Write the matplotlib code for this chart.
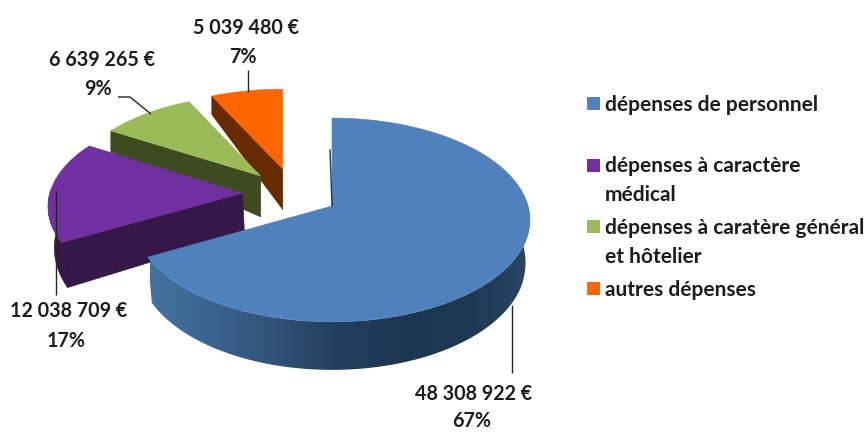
import numpy as np
import matplotlib
matplotlib.use("Agg")
import matplotlib.pyplot as plt
from matplotlib.patches import Polygon, Rectangle
from matplotlib.colors import LinearSegmentedColormap

# ---- data ----
categories = ["dépenses de personnel", "dépenses à caractère\nmédical",
              "dépenses à caratère général\net hôtelier", "autres dépenses"]
values = [48308922, 12038709, 6639265, 5039480]
percent_labels = ["67%", "17%", "9%", "7%"]

# ---- styles ----
top_colors = ["#4F81BD", "#7030A0", "#9BBB59", "#FF6600"]
cut_colors = ["#1F3550", "#351848", "#3E4A20", "#662B00"]
plt.rcParams["font.family"] = ["Lato", "DejaVu Sans"]
TXT = "#1c1c1c"
FS_LABEL = 14.2
FS_LEGEND = 15.0

fig = plt.figure(figsize=(8.68, 4.32), dpi=100)
ax = fig.add_axes([0, 0, 1, 1])

# pseudo-3D projection of the pie plane onto the canvas
CX, CY, RX, RY, K = 332, 206, 196, 100, 0.137
explode = [(0.0, 0.0), (-0.465, -0.13), (-0.38, -0.313), (-0.265, -0.39)]
pull = [0.022, 0.022, 0.0, 0.0]


def persp(yw):
    return 1 / (1 - K * yw)


def apex(i):
    ex, ey = explode[i]
    return CX + RX * ex * persp(ey), CY + RY * ey * persp(ey)


def drop(sy):
    return np.interp(sy, [90, 131, 170, 193, 242, 322], [18, 21, 41, 40, 45, 48])


def rim(i, t_deg):
    t = np.radians(t_deg)
    ex, ey = explode[i]
    yw = ey - np.sin(t)
    return (CX + RX * (ex * persp(ey) + np.cos(t) * persp(yw)),
            CY + RY * yw * persp(yw))


def lower(i, sx, sy):
    return sx + (CX - sx) * pull[i], sy + drop(sy)


fractions = np.array(values) / np.sum(values)
edges = 450 - 360 * np.concatenate([[0], np.cumsum(fractions)])  # clockwise from the top

for i in [3, 2, 1, 0]:
    t0, t1 = edges[i], edges[i + 1]
    z = 10 + (3 - i) * 3
    ts = np.linspace(t0, t1, 120)
    rx_, ry_ = rim(i, ts)
    ax_, ay_ = apex(i)
    if i > 0:
        # cut face on the counter-clockwise edge of the exploded slices
        ex_, ey_ = rim(i, t0)
        bx0, by0 = lower(i, ex_, ey_)
        bx1, by1 = lower(i, ax_, ay_)
        ax.add_patch(Polygon([(ex_, ey_), (ax_, ay_), (bx1, by1), (bx0, by0)],
                             fc=cut_colors[i], ec=cut_colors[i], lw=0.5, zorder=z))
    if i == 1:
        # small visible part of the purple rim, at its left edge
        ts2 = np.linspace(t0, 178, 30)
        sx, sy = rim(i, ts2)
        bx, by = lower(i, sx, sy)
        poly = np.r_[np.c_[sx, sy], np.c_[bx, by][::-1]]
        ax.add_patch(Polygon(poly, fc=cut_colors[i], ec=cut_colors[i], lw=0.5, zorder=z))
    if i == 0:
        ts2 = np.linspace(t1, 366, 200)
        sx, sy = rim(i, ts2)
        bx, by = lower(i, sx, sy)
        poly = np.r_[np.c_[sx, sy], np.c_[bx, by][::-1]]
        clip = Polygon(poly, fc="none", ec="none", transform=ax.transData)
        ax.add_patch(clip)
        cmap = LinearSegmentedColormap.from_list(
            "side", ["#44729F", "#3A6390", "#2F5175", "#233D5C", "#1E3550", "#1F3753", "#2A4765"])
        im = ax.imshow(np.linspace(0, 1, 256)[None, :], cmap=cmap, aspect="auto",
                       extent=[150, 535, 380, 200], zorder=z)
        im.set_clip_path(clip)
        # thin dark sliver of the far cut face
        ax.plot([330, 332], [150, 206], color="#1F3550", lw=1.0, zorder=z + 2)
    # top face
    ax.add_patch(Polygon(np.r_[[[ax_, ay_]], np.c_[rx_, ry_]], fc=top_colors[i],
                         ec=top_colors[i], lw=0.4, zorder=z + 1))

# leader lines
leaders = [([512, 512], [305, 373]), ([56, 56], [190, 295]),
           ([118, 130, 151], [97, 97, 114]), ([248, 248], [70, 92])]
for xs, ys in leaders:
    ax.plot(xs, ys, color="#262626", lw=1.0, zorder=40, solid_capstyle="butt")

# data labels
label_pos = [((474, 394), (472, 421)), ((69, 311), (66, 341)),
             ((102, 60), (98, 89)), ((246, 28), (243, 57))]
for v, p, (a, b) in zip(values, percent_labels, label_pos):
    ax.text(*a, f"{v:,}".replace(",", " ") + " €", ha="center", va="center",
            fontsize=FS_LABEL, fontweight="bold", color=TXT, zorder=41)
    ax.text(*b, p, ha="center", va="center", fontsize=FS_LABEL, fontweight="bold", color=TXT, zorder=41)

# legend
legend_y = [103.5, 165, 226.5, 288.5]
line_y = [[105], [166, 195], [228, 257], [290]]
for c, lab, my, ly in zip(top_colors, categories, legend_y, line_y):
    ax.add_patch(Rectangle((587, my - 6.5), 12.5, 13, fc=c, ec="none", zorder=40))
    for line, y in zip(lab.split("\n"), ly):
        ax.text(605, y, line, ha="left", va="center", fontsize=FS_LEGEND, fontweight="bold",
                color=TXT, zorder=41)

ax.set_xlim(0, 868)
ax.set_ylim(432, 0)
ax.axis("off")
fig.savefig("out.png", dpi=100, facecolor="white")
